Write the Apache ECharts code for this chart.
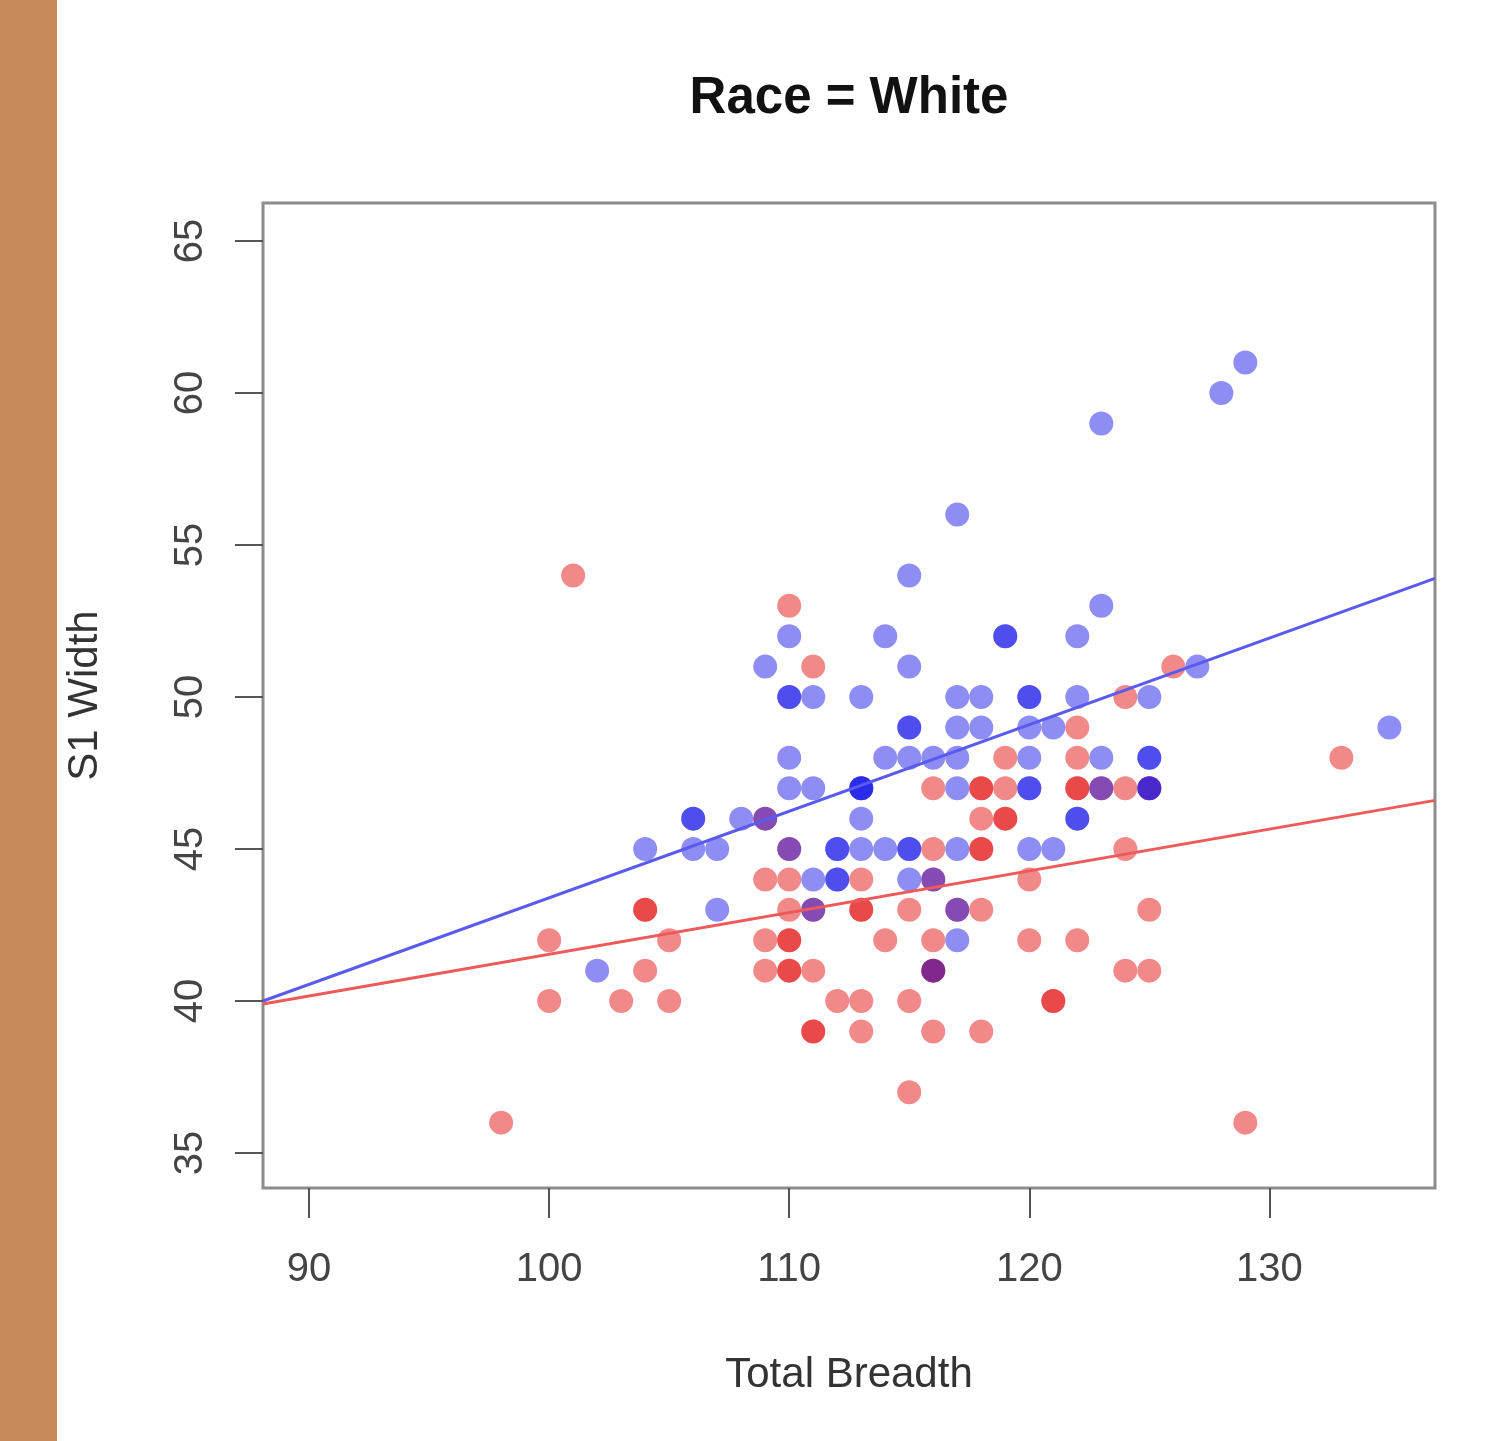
<!DOCTYPE html>
<html>
<head>
<meta charset="utf-8">
<script src="https://cdn.jsdelivr.net/npm/echarts@6/dist/echarts.min.js"></script>
<style>
  html, body { margin: 0; padding: 0; background: #fff; }
  #chart { width: 1496px; height: 1441px; }
</style>
</head>
<body>
<div id="chart"></div>
<script>
// Axis ticks
const xTicks = [90, 100, 110, 120, 130];
const yTicks = [35, 40, 45, 50, 55, 60, 65];

// Red group: [Total Breadth, S1 Width]; repeated pairs are coincident observations
const redPts = [
  [98, 36], [100, 42], [100, 40], [101, 54], [103, 40],
  [104, 43], [104, 43], [104, 41], [105, 42], [105, 40],
  [109, 44], [109, 42], [109, 41], [109, 46],
  [110, 53], [110, 45], [110, 44], [110, 43], [110, 42], [110, 42], [110, 41], [110, 41],
  [111, 51], [111, 43], [111, 41], [111, 39], [111, 39],
  [112, 40], [113, 44], [113, 43], [113, 43], [113, 40], [113, 39],
  [114, 42], [115, 43], [115, 40], [115, 37],
  [116, 47], [116, 45], [116, 44], [116, 42], [116, 41], [116, 41], [116, 39],
  [117, 43],
  [118, 47], [118, 47], [118, 46], [118, 45], [118, 45], [118, 43], [118, 39],
  [119, 48], [119, 47], [119, 46], [119, 46],
  [120, 44], [120, 42], [121, 40], [121, 40],
  [122, 49], [122, 48], [122, 47], [122, 47], [122, 42],
  [123, 47], [124, 50], [124, 47], [124, 45], [124, 41],
  [125, 47], [125, 43], [125, 41], [126, 51], [129, 36], [133, 48]
];

// Blue group: [Total Breadth, S1 Width]
const bluePts = [
  [102, 41], [104, 45], [106, 46], [106, 46], [106, 45], [107, 45], [107, 43],
  [108, 46], [109, 46], [109, 51],
  [110, 52], [110, 50], [110, 50], [110, 48], [110, 47], [110, 45],
  [111, 50], [111, 47], [111, 44], [111, 43],
  [112, 45], [112, 45], [112, 44], [112, 44],
  [113, 50], [113, 47], [113, 47], [113, 47], [113, 46], [113, 45],
  [114, 52], [114, 48], [114, 45],
  [115, 54], [115, 51], [115, 49], [115, 49], [115, 48], [115, 45], [115, 45], [115, 44],
  [116, 48], [116, 44], [116, 41],
  [117, 56], [117, 50], [117, 49], [117, 48], [117, 47], [117, 45], [117, 43], [117, 42],
  [118, 50], [118, 49], [119, 52], [119, 52],
  [120, 50], [120, 50], [120, 49], [120, 48], [120, 47], [120, 47], [120, 45],
  [121, 49], [121, 45],
  [122, 52], [122, 50], [122, 46], [122, 46],
  [123, 59], [123, 53], [123, 48], [123, 47],
  [125, 50], [125, 48], [125, 48], [125, 47], [125, 47],
  [127, 51], [128, 60], [129, 61], [135, 49]
];

// Fitted lines, end points across the plotting range
const redFit = [[88.08, 39.9], [136.9, 46.6]];
const blueFit = [[88.08, 40.0], [136.9, 53.9]];

const FONT = '"Liberation Sans", Arial, Helvetica, sans-serif';
const chart = echarts.init(document.getElementById('chart'), null, { renderer: 'canvas' });

chart.setOption({
  animation: false,
  backgroundColor: '#ffffff',
  graphic: [
    { type: 'rect', left: 0, top: 0, shape: { width: 57, height: 1441 }, style: { fill: '#C98A59' }, z: 100 },
    { type: 'text', x: 849, y: 99, style: { text: 'Race = White', font: 'bold 51px ' + FONT, fill: '#111', align: 'center', verticalAlign: 'middle' }, z: 100 }
  ],
  grid: {
    left: 263, right: 61, top: 203, bottom: 253,
    show: true, borderColor: '#8c8c8c', borderWidth: 3, backgroundColor: 'transparent'
  },
  xAxis: {
    type: 'value', min: 88.08, max: 136.9,
    name: 'Total Breadth', nameLocation: 'middle', nameGap: 166,
    nameTextStyle: { fontFamily: FONT, fontSize: 42, color: '#333' },
    axisLine: { show: false },
    axisTick: { show: true, customValues: xTicks, length: 30, lineStyle: { color: '#555', width: 2 } },
    axisLabel: { customValues: xTicks, fontFamily: FONT, fontSize: 40, color: '#444', margin: 62 },
    splitLine: { show: false }
  },
  yAxis: {
    type: 'value', min: 33.85, max: 66.25,
    name: 'S1 Width', nameLocation: 'middle', nameGap: 157, nameRotate: 90,
    nameTextStyle: { fontFamily: FONT, fontSize: 42, color: '#333' },
    axisLine: { show: false },
    axisTick: { show: true, customValues: yTicks, length: 28, lineStyle: { color: '#555', width: 2 } },
    axisLabel: { customValues: yTicks, rotate: 90, fontFamily: FONT, fontSize: 40, color: '#444', margin: 52 },
    splitLine: { show: false }
  },
  series: [
    {
      type: 'scatter', data: redPts, symbolSize: 24,
      itemStyle: { color: 'rgba(225,0,0,0.58)' },
      emphasis: { disabled: true }, z: 2
    },
    {
      type: 'scatter', data: bluePts, symbolSize: 24,
      itemStyle: { color: 'rgba(0,0,230,0.56)' },
      emphasis: { disabled: true }, z: 3
    },
    {
      type: 'line', data: blueFit, showSymbol: false, clip: true,
      lineStyle: { color: '#5a5aee', width: 3 }, z: 4
    },
    {
      type: 'line', data: redFit, showSymbol: false, clip: true,
      lineStyle: { color: '#ee5a5a', width: 3 }, z: 4
    }
  ]
});
</script>
</body>
</html>
